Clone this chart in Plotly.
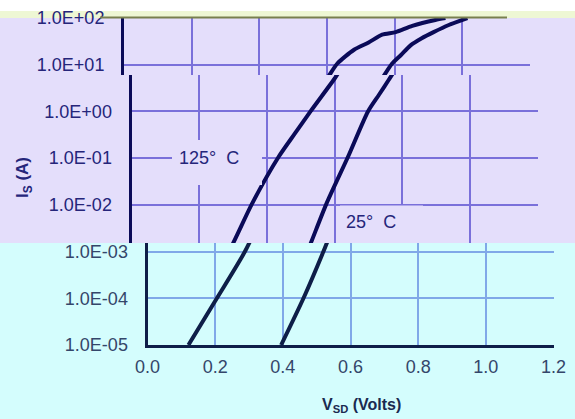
import plotly.graph_objects as go

# ---------------- data ----------------
volts_125 = [0.121, 0.205, 0.288, 0.356, 0.435, 0.482, 0.529, 0.600, 0.630, 0.680,
             0.723, 0.763, 0.803, 0.852, 0.920, 0.950]
amps_125 = [1.0e-5, 1.0e-4, 1.0e-3, 1.05e-2, 1.07e-1, 3.3e-1, 1.0, 5.0, 10.5, 21.0,
            30.0, 44.0, 50.0, 68.0, 91.0, 100.0]

volts_25 = [0.395, 0.461, 0.520, 0.576, 0.640, 0.699, 0.732, 0.760, 0.792, 0.818,
            0.847, 0.880, 0.915, 0.960, 1.015]
amps_25 = [1.0e-5, 1.0e-4, 1.0e-3, 1.05e-2, 1.07e-1, 1.0, 2.3, 4.7, 10.5, 16.0,
           26.0, 37.0, 50.0, 71.0, 100.0]

x_ticks = [0.0, 0.2, 0.4, 0.6, 0.8, 1.0, 1.2]
x_tick_labels = ["0.0", "0.2", "0.4", "0.6", "0.8", "1.0", "1.2"]
y_ticks = [1e-5, 1e-4, 1e-3, 1e-2, 1e-1, 1e0, 1e1, 1e2]
y_tick_labels = ["1.0E-05", "1.0E-04", "1.0E-03", "1.0E-02", "1.0E-01",
                 "1.0E+00", "1.0E+01", "1.0E+02"]
curve_labels = ["125°  C", "25°  C"]
x_title = "<b>V<sub>SD</sub> (Volts)</b>"
y_title = "<b>I<sub>S</sub> (A)</b>"

# ---------------- geometry / style ----------------
W, H = 575, 419
FONT = "Liberation Sans, Arial, sans-serif"
LAV = "#E4DEFB"
CYAN = "#D4FDFD"
STRIP = "#EEF7D4"


def fx(p):
    return p / W


def fy(p):
    return 1 - p / H


def logat(p):  # log10(I) at pixel row p (2 at row 18, 46.71 px / decade)
    return 2 - (p - 18) / 46.71


bands = [
    dict(left=147.5, right=553.5, top=243, bot=345, grid="#80A8E8", text="#34466A",
         line="#0E1E48", show_x=True),
    dict(left=131.5, right=537.5, top=75, bot=243, grid="#7A70DA", text="#25257A",
         line="#0A0A58", show_x=False),
    dict(left=124.0, right=530.0, top=18, bot=75, grid="#7A70DA", text="#25257A",
         line="#0A0A58", show_x=False),
]

fig = go.Figure()
layout = dict(
    width=W, height=H,
    margin=dict(l=0, r=0, t=0, b=0, pad=0, autoexpand=False),
    paper_bgcolor="white", plot_bgcolor="rgba(0,0,0,0)",
    showlegend=False, font=dict(family=FONT),
)

for i, b in enumerate(bands):
    n = "" if i == 0 else str(i + 1)
    xa, ya = "x" + n, "y" + n
    for xs, ys in ((volts_125, amps_125), (volts_25, amps_25)):
        fig.add_trace(go.Scatter(x=xs, y=ys, mode="lines", xaxis=xa, yaxis=ya,
                                 line=dict(color=b["line"], width=4,
                                           shape="spline", smoothing=0.7),
                                 hoverinfo="skip"))
    y_lo = logat(b["bot"]) if i > 0 else -5
    y_hi = logat(b["top"]) + (0.002 if i == 2 else 0)
    layout["xaxis" + n] = dict(
        domain=[fx(b["left"]), fx(b["right"])], range=[0, 1.2], anchor=ya,
        tickvals=x_ticks, ticktext=x_tick_labels, showticklabels=b["show_x"],
        ticks="", showgrid=True, gridcolor=b["grid"], gridwidth=2,
        zeroline=False, showline=b["show_x"], linecolor=b["line"], linewidth=3,
        tickfont=dict(size=18, color=b["text"], family=FONT),
        ticklabelstandoff=3, automargin=False,
    )
    layout["yaxis" + n] = dict(
        domain=[fy(b["bot"]), fy(b["top"])], type="log", range=[y_lo, y_hi],
        anchor=xa, tickvals=y_ticks, ticktext=y_tick_labels, ticks="",
        showgrid=True, gridcolor=b["grid"], gridwidth=2, zeroline=False,
        showline=True, linecolor=b["line"], linewidth=3,
        tickfont=dict(size=18, color=b["text"], family=FONT),
        ticklabelstandoff=13, automargin=False,
    )

shapes = [
    dict(type="rect", xref="paper", yref="paper", x0=0, x1=1, y0=fy(243), y1=fy(18),
         fillcolor=LAV, line=dict(width=0), layer="below"),
    dict(type="rect", xref="paper", yref="paper", x0=0, x1=1, y0=0, y1=fy(243),
         fillcolor=CYAN, line=dict(width=0), layer="below"),
    dict(type="rect", xref="paper", yref="paper", x0=0, x1=1, y0=fy(18), y1=fy(11),
         fillcolor=STRIP, line=dict(width=0), layer="below"),
    dict(type="rect", xref="paper", yref="paper", x0=fx(172), x1=fx(262),
         y0=fy(185), y1=fy(140), fillcolor=LAV, line=dict(width=0), layer="above"),
    dict(type="rect", xref="paper", yref="paper", x0=fx(340), x1=fx(423),
         y0=fy(243), y1=fy(205.5), fillcolor=LAV, line=dict(width=0), layer="above"),
    dict(type="line", xref="paper", yref="paper", x0=fx(100), x1=fx(507),
         y0=fy(17.5), y1=fy(17.5), line=dict(color="#78804E", width=2), layer="above"),
]
layout["shapes"] = shapes

common = dict(xref="paper", yref="paper", showarrow=False,
              xanchor="center", yanchor="middle")
annotations = [
    dict(text=curve_labels[0], x=fx(209), y=fy(157.5),
         font=dict(size=18, color="#25257A", family=FONT), **common),
    dict(text=curve_labels[1], x=fx(371), y=fy(222),
         font=dict(size=18, color="#25257A", family=FONT), **common),
    dict(text=y_title, x=fx(24), y=fy(178), textangle=-90,
         font=dict(size=17, color="#25257A", family=FONT), **common),
    dict(text=x_title, x=fx(361), y=fy(405),
         font=dict(size=16, color="#1A2A50", family=FONT), **common),
]
layout["annotations"] = annotations

fig.update_layout(**layout)
fig.write_html(
    "out.html",
    config={"displayModeBar": False},
    post_script="document.body.style.margin='0px';document.body.style.overflow='hidden';",
)
